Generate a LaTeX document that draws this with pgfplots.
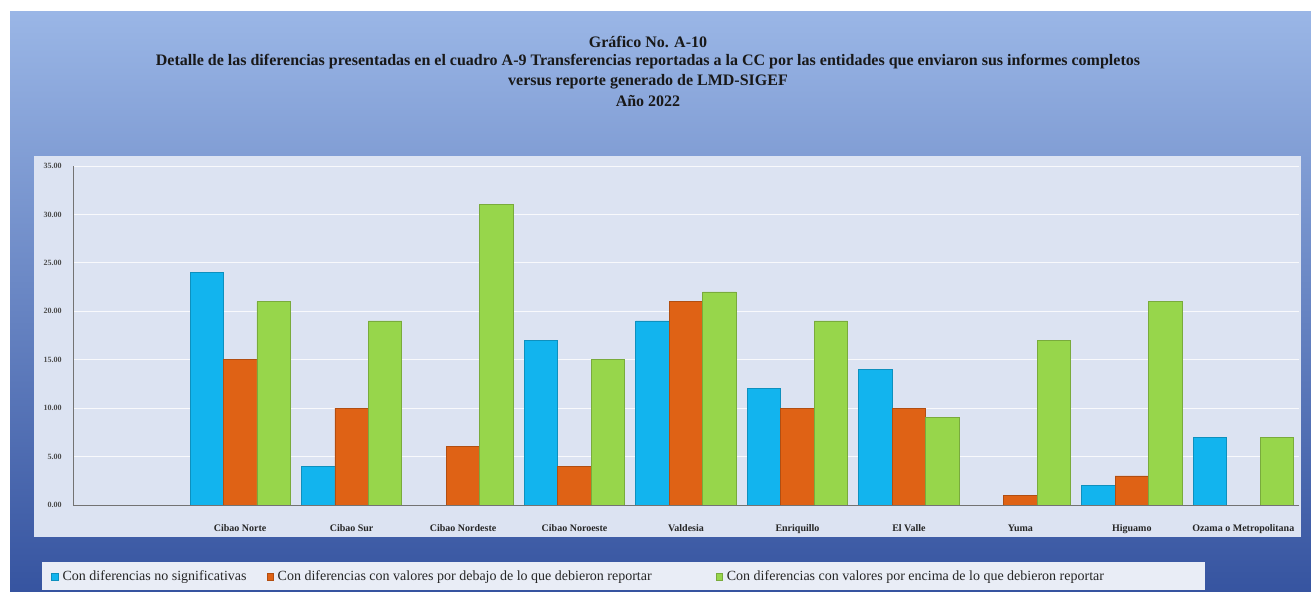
\documentclass[border=0pt]{standalone}
\usepackage{pgfplots}
\pgfplotsset{compat=1.18}
\usepackage{fontspec}
\setmainfont{Liberation Serif}
\definecolor{serA}{HTML}{12B4EE}
\definecolor{serB}{HTML}{DF6215}
\definecolor{serC}{HTML}{97D64B}
\definecolor{panel}{HTML}{DCE3F2}
\definecolor{frameTop}{HTML}{9AB6E6}
\definecolor{frameBot}{HTML}{3654A0}
\definecolor{legbox}{HTML}{E9EDF6}

\begin{document}
\begin{tikzpicture}
\path[use as bounding box] (0,0) rectangle (655.5pt,296pt);
% background frame, panel and legend box (px units, y from top)
\begin{scope}[x=0.5pt,y=-0.5pt,shift={(0pt,296pt)}]
  \shade[top color=frameTop, bottom color=frameBot] (10,12) rectangle (1311,592);
  \fill[panel] (34,156) rectangle (1301,537);
  \fill[legbox] (42,562) rectangle (1205,590);
  \begin{scope}[every node/.style={font=\fontsize{8}{9}\selectfont\bfseries, text=black!90}]
    \node at (648,42) {Gráfico No. A-10};
    \node at (648,62) {Detalle de las diferencias presentadas en el cuadro A-9 Transferencias reportadas a la CC por las entidades que enviaron sus informes completos};
    \node at (648,82) {versus reporte generado de LMD-SIGEF};
    \node at (648,101) {Año 2022};
  \end{scope}
\end{scope}

\begin{axis}[
  at={(36.5pt,43.5pt)}, anchor=south west,
  scale only axis, width=613pt, height=169.5pt,
  ybar, bar width=0.3,
  xmin=-0.5, xmax=10.5, ymin=0, ymax=35,
  axis lines=left, axis line style={-, draw=black!55},
  xtick={1,...,10},
  xticklabels={Cibao Norte, Cibao Sur, Cibao Nordeste, Cibao Noroeste, Valdesia, Enriquillo, El Valle, Yuma, Higuamo, Ozama o Metropolitana},
  xtick style={draw=none},
  x tick label style={font=\fontsize{5}{6}\selectfont\bfseries, text=black!85,
    text height=1.4ex, text depth=0.3ex, yshift=-1pt},
  ytick={0,5,...,35},
  ytick style={draw=none},
  yticklabel style={/pgf/number format/fixed, /pgf/number format/fixed zerofill,
    /pgf/number format/precision=2, /pgf/number format/assume math mode=true},
  y tick label style={font=\fontsize{4}{5}\selectfont\bfseries, text=black!70},
  ymajorgrids, grid style={draw=white!80!panel, line width=0.4pt},
  legend style={at={(-0.0228,-0.2124)}, anchor=west, draw=none, fill=none,
    legend columns=3, font=\fontsize{7}{8}\selectfont, text=black!85,
    /tikz/column 2/.style={column sep=8pt},
    /tikz/column 4/.style={column sep=30pt}},
  legend image code/.code={\fill[#1] (0pt,-1.6pt) rectangle (3.2pt,1.6pt);},
]
\addplot[fill=serA, draw=serA!80!black, bar shift=-0.3] coordinates {
(1,24) (2,4) (4,17) (5,19) (6,12) (7,14) (9,2) (10,7)
};
\addplot[fill=serB, draw=serB!80!black, bar shift=0] coordinates {
(1,15) (2,10) (3,6) (4,4) (5,21) (6,10) (7,10) (8,1) (9,3)
};
\addplot[fill=serC, draw=serC!80!black, bar shift=0.3] coordinates {
(1,21) (2,19) (3,31) (4,15) (5,22) (6,19) (7,9) (8,17) (9,21) (10,7)
};
\legend{Con diferencias no significativas, Con diferencias con valores por debajo de lo que debieron reportar, Con diferencias con valores por encima de lo que debieron reportar}
\end{axis}
\end{tikzpicture}
\end{document}
